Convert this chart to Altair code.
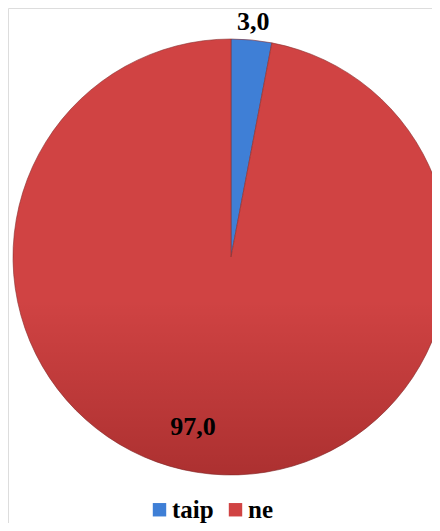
import altair as alt
import pandas as pd

categories = ["taip", "ne"]
values = [3.0, 97.0]
colors = ["#3F7FD6", "#D04343"]

df = pd.DataFrame({"label": categories, "value": values, "idx": [0, 1]})
total = sum(values)

cx, cy, R = 223, 249, 218
font = "Liberation Serif"

theta_scale = alt.Scale(domain=[0, total])

base = alt.Chart(df).transform_calculate(
    txt="replace(format(datum.value, '.1f'), '.', ',')"
).transform_window(
    cum="sum(value)", sort=[alt.SortField("idx")]
).transform_calculate(mid="datum.cum - datum.value / 2")

arc = alt.Chart(df).mark_arc(radius=R, stroke="#8a3030", strokeWidth=0.6).encode(
    theta=alt.Theta("value:Q", stack=True, scale=theta_scale),
    order=alt.Order("idx:Q"),
    color=alt.Color(
        "label:N",
        scale=alt.Scale(domain=categories, range=colors),
        sort=categories,
        legend=alt.Legend(
            title=None,
            orient="none",
            direction="horizontal",
            legendX=139,
            legendY=489,
            symbolType="square",
            symbolSize=180,
            symbolStrokeWidth=0,
            labelFont=font,
            labelFontWeight="bold",
            labelFontSize=25,
            labelColor="#000000",
            labelOffset=0,
            columnPadding=9,
        ),
    ),
    x=alt.value(cx),
    y=alt.value(cy),
)

shade = alt.Chart(pd.DataFrame({"k": [0]})).mark_arc(
    radius=R,
    fill=alt.Gradient(
        gradient="linear", x1=0, y1=0, x2=0, y2=1,
        stops=[
            alt.GradientStop(offset=0, color="rgba(80,0,0,0)"),
            alt.GradientStop(offset=0.6, color="rgba(80,0,0,0)"),
            alt.GradientStop(offset=1, color="rgba(80,0,0,0.28)"),
        ],
    ),
).encode(theta=alt.value(0), theta2=alt.value(6.2832),
         x=alt.value(cx), y=alt.value(cy))

t1 = base.transform_filter("datum.idx == 0").mark_text(
    radius=236, font=font, fontWeight="bold", fontSize=26, color="#000000",
    baseline="middle", align="center"
).encode(theta=alt.Theta("mid:Q", scale=theta_scale), text="txt:N",
         x=alt.value(cx), y=alt.value(cy))

t2 = base.transform_filter("datum.idx == 1").mark_text(
    radius=171, dx=-22, font=font, fontWeight="bold", fontSize=26, color="#000000",
    baseline="middle", align="center"
).encode(theta=alt.Theta("mid:Q", scale=theta_scale), text="txt:N",
         x=alt.value(cx), y=alt.value(cy))

chart = alt.layer(arc, shade, t1, t2).properties(
    width=424, height=515, padding=0,
    autosize=alt.AutoSizeParams(type="none"),
).configure_view(stroke="transparent", strokeWidth=0).configure_legend(
    labelFont=font, labelFontWeight="bold"
).configure(background="#ffffff")

chart.save("out.html", embed_options={"renderer": "svg", "actions": False})
